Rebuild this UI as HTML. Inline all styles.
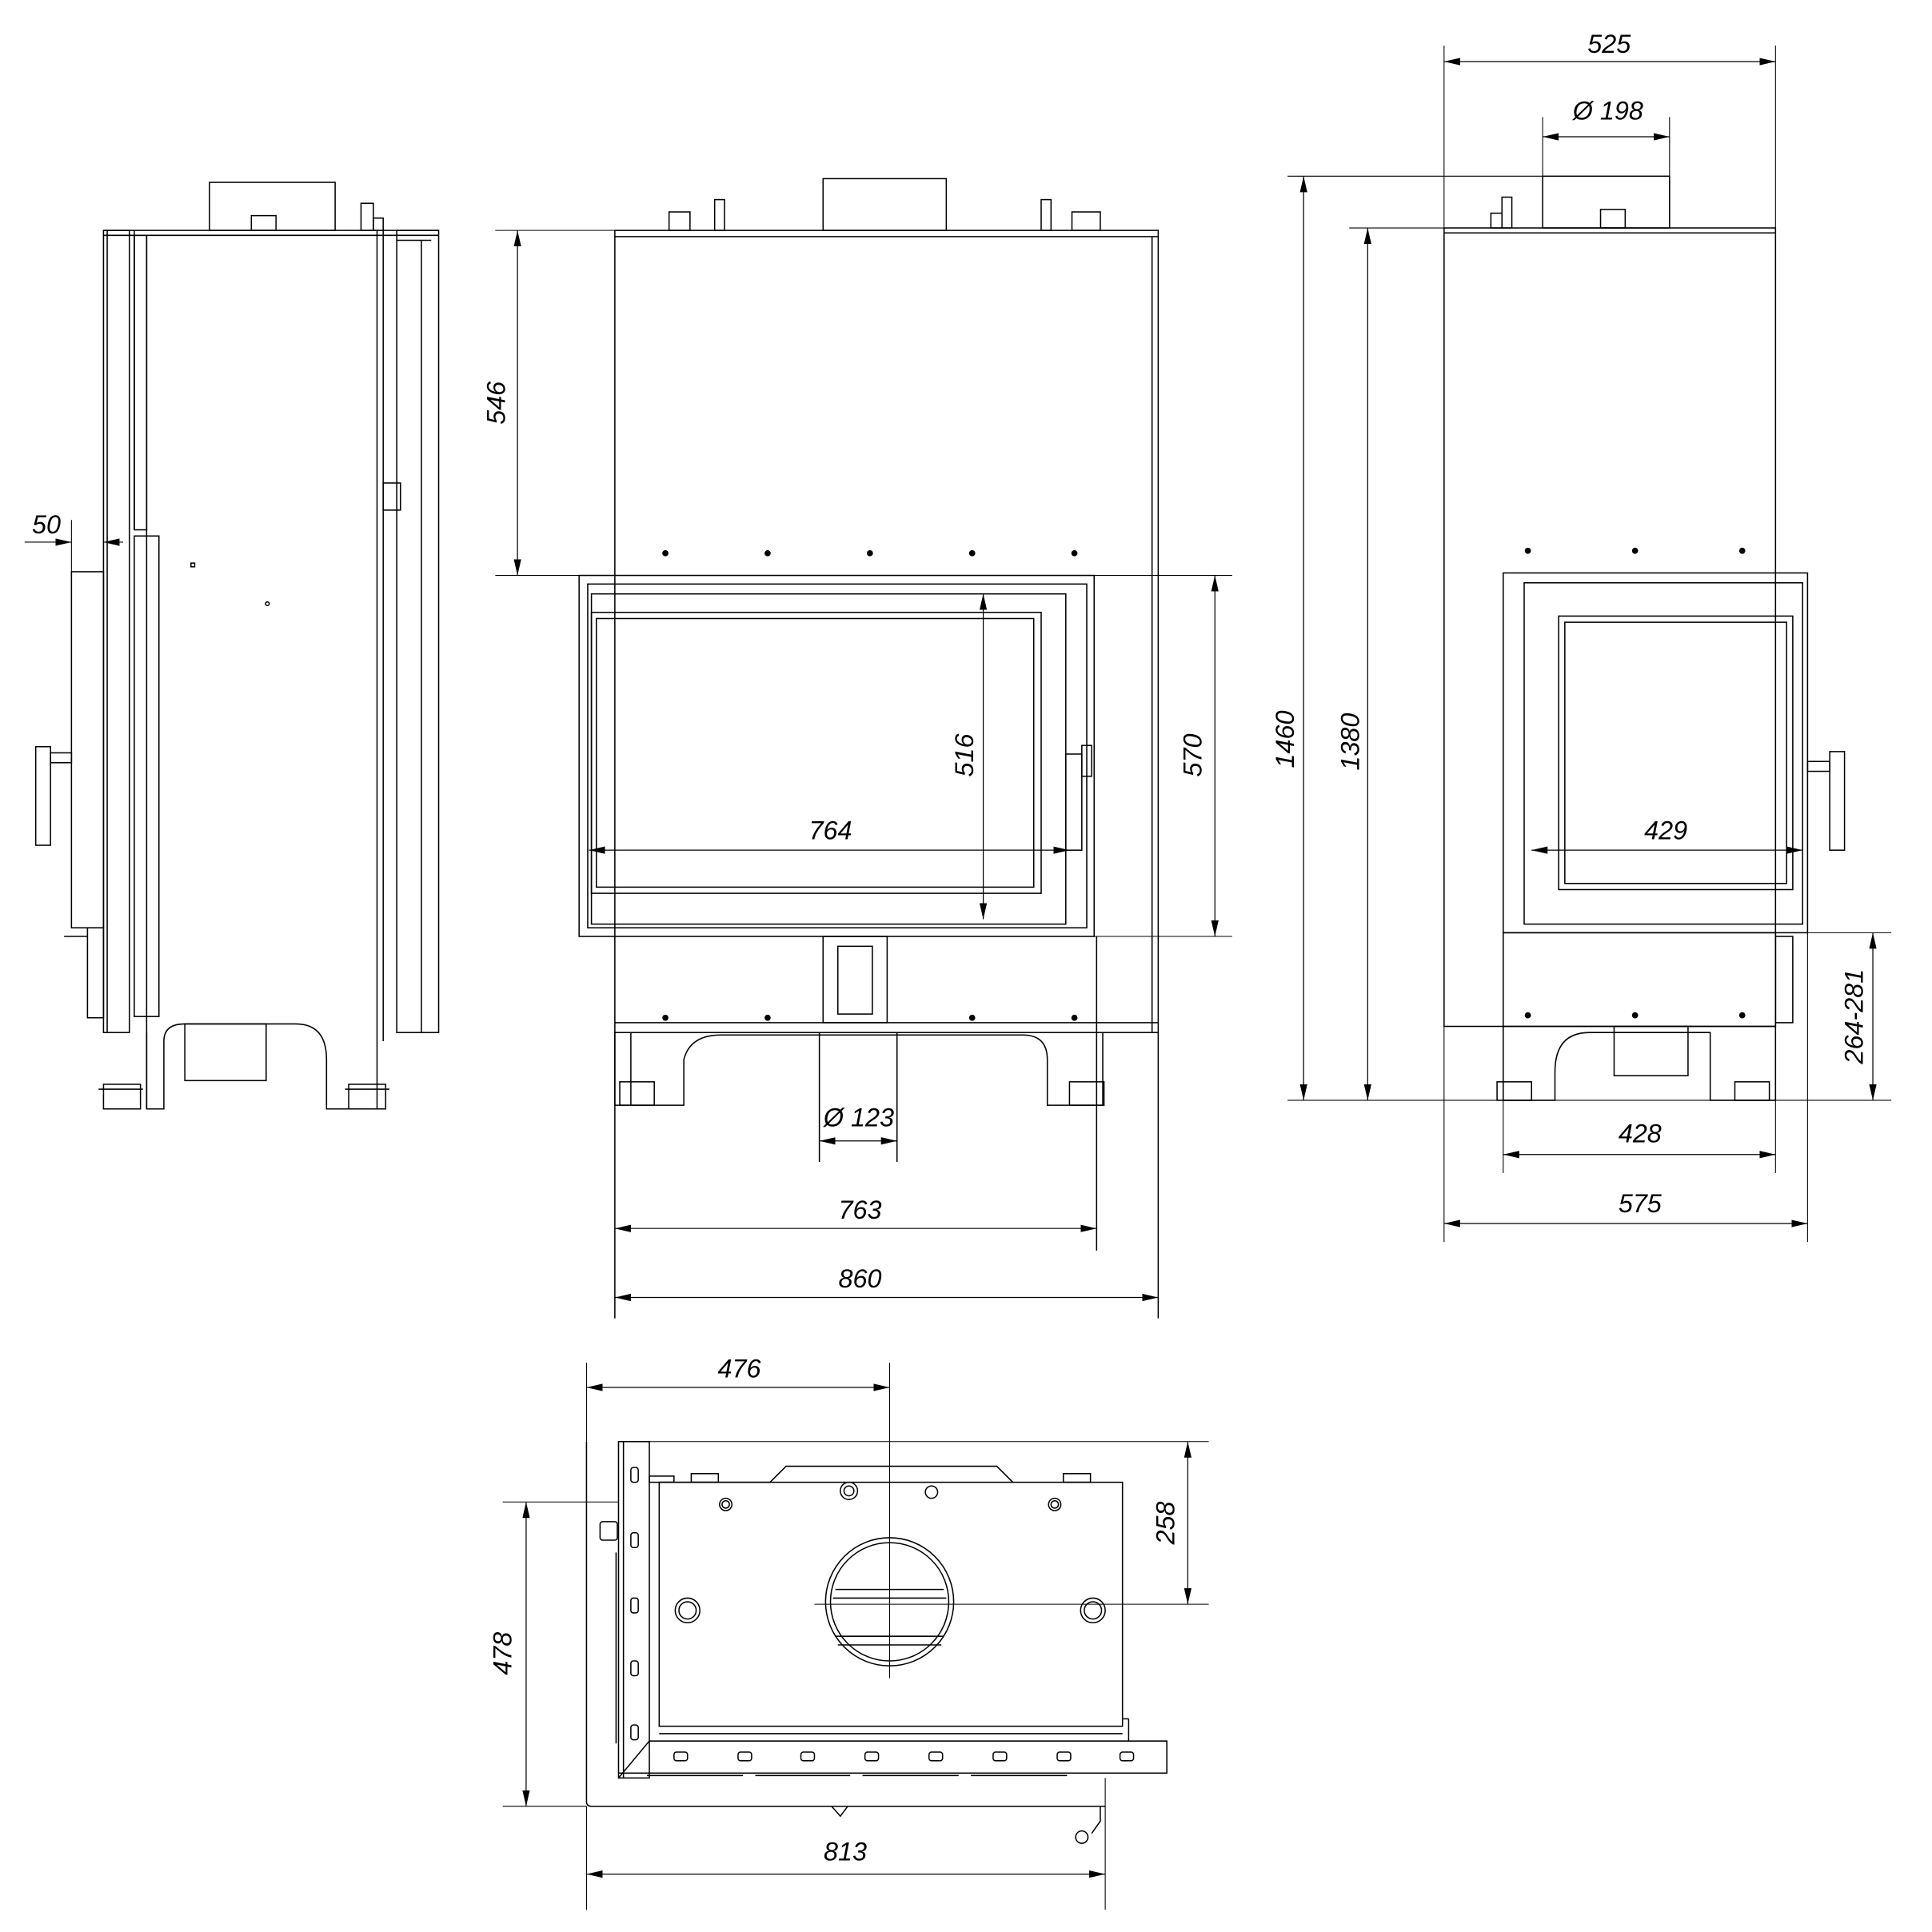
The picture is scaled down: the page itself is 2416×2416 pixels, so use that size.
<!DOCTYPE html>
<html><head><meta charset="utf-8"><style>html,body{margin:0;padding:0;background:#fff}svg{display:block}</style></head>
<body>
<svg width="2416" height="2416" viewBox="0 0 1568 1568" xmlns="http://www.w3.org/2000/svg">
<defs>
<marker id="a" markerUnits="userSpaceOnUse" markerWidth="14" markerHeight="8" refX="13" refY="4" orient="auto"><path d="M0,1 L13,4 L0,7 Z" fill="#000"/></marker>
<marker id="b" markerUnits="userSpaceOnUse" markerWidth="14" markerHeight="8" refX="1" refY="4" orient="auto"><path d="M14,1 L1,4 L14,7 Z" fill="#000"/></marker>
</defs>
<style>
.l{fill:none;stroke:#000;stroke-width:1}
.t{fill:none;stroke:#000;stroke-width:0.7}
.d{fill:none;stroke:#000;stroke-width:0.8;marker-start:url(#b);marker-end:url(#a)}
text{font-family:"Liberation Sans",sans-serif;font-style:italic;font-size:21px;fill:#000}
</style>

<!-- ===== SIDE VIEW ===== -->
<g class="l">
<rect x="170" y="148" width="102" height="39"/>
<rect x="204" y="175" width="20" height="12"/>
<rect x="293" y="165" width="10" height="22"/>
<rect x="303" y="177" width="8" height="10"/>
<line x1="84" y1="187" x2="356" y2="187"/>
<line x1="84" y1="191" x2="356" y2="191"/>
<rect x="84" y="187" width="21" height="651"/>
<line x1="87" y1="187" x2="87" y2="838"/>
<line x1="109" y1="187" x2="109" y2="430"/>
<rect x="109" y="191" width="10" height="239"/>
<rect x="109" y="435" width="20" height="390"/>
<line x1="119" y1="191" x2="119" y2="900"/>
<line x1="306" y1="187" x2="306" y2="900"/>
<line x1="311" y1="187" x2="311" y2="845"/>
<rect x="322" y="187" width="34" height="651"/>
<line x1="342" y1="195" x2="342" y2="838"/>
<line x1="322" y1="195" x2="350" y2="195"/>
<rect x="311" y="392" width="14" height="22"/>
<rect x="58" y="464" width="26" height="289"/>
<rect x="29" y="606" width="12" height="80"/>
<rect x="41" y="611" width="17" height="8"/>
<rect x="71" y="753" width="13" height="73"/>
<line x1="52" y1="760" x2="71" y2="760"/>
<path d="M119,838 V900 H133 V845 Q133,831 150,831 H240 Q265,831 265,860 V900 H306"/>
<rect x="150" y="831" width="66" height="46"/>
<rect x="84" y="880" width="30" height="20"/>
<rect x="283" y="880" width="30" height="20"/>
<line x1="80" y1="884" x2="116" y2="884"/>
<line x1="280" y1="884" x2="316" y2="884"/>
<rect x="155" y="457" width="3" height="3"/>
<circle cx="217" cy="490" r="1.5"/>
</g>
<line class="t" x1="58" y1="422" x2="58" y2="464"/>
<line class="t" x1="20" y1="440" x2="58" y2="440" marker-end="url(#a)"/>
<line class="t" x1="84" y1="440" x2="100" y2="440" marker-start="url(#b)"/>
<text x="26" y="433">50</text>

<!-- ===== FRONT VIEW ===== -->
<g class="l">
<rect x="668" y="145" width="100" height="42"/>
<rect x="543" y="172" width="17" height="15"/>
<rect x="580" y="162" width="8" height="25"/>
<rect x="845" y="162" width="8" height="25"/>
<rect x="870" y="172" width="23" height="15"/>
<rect x="499" y="187" width="441" height="651"/>
<line x1="499" y1="192" x2="940" y2="192"/>
<line x1="935" y1="192" x2="935" y2="838"/>
<rect x="470" y="467" width="418" height="293"/>
<rect x="477" y="474" width="405" height="279"/>
<rect x="480" y="482" width="385" height="268"/>
<rect x="480" y="497" width="365" height="228"/>
<rect x="484" y="502" width="355" height="218"/>
<rect x="865" y="612" width="13" height="78"/>
<rect x="878" y="605" width="8" height="25"/>
<line x1="499" y1="830" x2="940" y2="830"/>
<rect x="668" y="760" width="52" height="70"/>
<rect x="680" y="768" width="28" height="55"/>
<path d="M499,838 V897 H555 V860 Q560,840 585,840 H830 Q850,840 850,860 V897 H895 V838"/>
<line x1="512" y1="838" x2="512" y2="897"/>
<rect x="503" y="878" width="28" height="19"/>
<rect x="868" y="878" width="28" height="19"/>
<line x1="665" y1="838" x2="665" y2="943"/>
<line x1="728" y1="838" x2="728" y2="943"/>
<line x1="890" y1="760" x2="890" y2="1015"/>
<line x1="499" y1="838" x2="499" y2="1070"/>
<line x1="940" y1="838" x2="940" y2="1070"/>
</g>
<g fill="#000">
<circle cx="540" cy="449" r="2.5"/><circle cx="623" cy="449" r="2.5"/><circle cx="706" cy="449" r="2.5"/><circle cx="789" cy="449" r="2.5"/><circle cx="872" cy="449" r="2.5"/>
<circle cx="540" cy="826" r="2.5"/><circle cx="623" cy="826" r="2.5"/><circle cx="789" cy="826" r="2.5"/><circle cx="872" cy="826" r="2.5"/>
</g>
<line class="t" x1="402" y1="187" x2="499" y2="187"/>
<line class="t" x1="402" y1="467" x2="470" y2="467"/>
<line class="t" x1="888" y1="467" x2="1000" y2="467"/>
<line class="t" x1="888" y1="760" x2="1000" y2="760"/>
<line class="d" x1="420" y1="187" x2="420" y2="467"/>
<line class="d" x1="986" y1="467" x2="986" y2="760"/>
<line class="d" x1="798" y1="482" x2="798" y2="746"/>
<line class="d" x1="478" y1="690" x2="868" y2="690"/>
<line class="d" x1="499" y1="997" x2="890" y2="997"/>
<line class="d" x1="499" y1="1053" x2="940" y2="1053"/>
<line class="d" x1="665" y1="926" x2="728" y2="926"/>
<text transform="translate(410,327) rotate(-90)" text-anchor="middle">546</text>
<text transform="translate(975,613) rotate(-90)" text-anchor="middle">570</text>
<text transform="translate(790,613) rotate(-90)" text-anchor="middle">516</text>
<text x="674" y="681" text-anchor="middle">764</text>
<text x="698" y="989" text-anchor="middle">763</text>
<text x="698" y="1045" text-anchor="middle">860</text>
<text x="697" y="914" text-anchor="middle">Ø 123</text>

<!-- ===== RIGHT VIEW ===== -->
<g class="l">
<rect x="1252" y="143" width="103" height="42"/>
<rect x="1299" y="170" width="20" height="15"/>
<rect x="1210" y="173" width="9" height="12"/>
<rect x="1219" y="160" width="8" height="25"/>
<rect x="1172" y="185" width="269" height="648"/>
<line x1="1172" y1="189" x2="1441" y2="189"/>
<rect x="1220" y="465" width="247" height="292"/>
<rect x="1237" y="473" width="226" height="277"/>
<rect x="1265" y="500" width="190" height="222"/>
<rect x="1270" y="505" width="180" height="212"/>
<rect x="1485" y="610" width="12" height="80"/>
<rect x="1467" y="618" width="18" height="8"/>
<rect x="1220" y="757" width="221" height="76"/>
<rect x="1441" y="760" width="14" height="70"/>
<path d="M1220,833 V893 H1262 V870 Q1262,838 1290,838 H1388 V893 H1441 V833"/>
<rect x="1310" y="833" width="60" height="40"/>
<rect x="1215" y="878" width="28" height="15"/>
<rect x="1408" y="878" width="28" height="15"/>
</g>
<g fill="#000">
<circle cx="1240" cy="447" r="2.5"/><circle cx="1327" cy="447" r="2.5"/><circle cx="1414" cy="447" r="2.5"/>
<circle cx="1240" cy="824" r="2.5"/><circle cx="1327" cy="824" r="2.5"/><circle cx="1414" cy="824" r="2.5"/>
</g>
<line class="t" x1="1172" y1="37" x2="1172" y2="185"/>
<line class="t" x1="1441" y1="37" x2="1441" y2="185"/>
<line class="t" x1="1252" y1="95" x2="1252" y2="143"/>
<line class="t" x1="1355" y1="95" x2="1355" y2="143"/>
<line class="t" x1="1045" y1="143" x2="1252" y2="143"/>
<line class="t" x1="1095" y1="185" x2="1172" y2="185"/>
<line class="t" x1="1045" y1="893" x2="1535" y2="893"/>
<line class="t" x1="1467" y1="757" x2="1535" y2="757"/>
<line class="t" x1="1220" y1="893" x2="1220" y2="952"/>
<line class="t" x1="1441" y1="893" x2="1441" y2="952"/>
<line class="t" x1="1172" y1="833" x2="1172" y2="1008"/>
<line class="t" x1="1467" y1="757" x2="1467" y2="1008"/>
<line class="d" x1="1172" y1="50" x2="1441" y2="50"/>
<line class="d" x1="1252" y1="111" x2="1355" y2="111"/>
<line class="d" x1="1058" y1="143" x2="1058" y2="893"/>
<line class="d" x1="1110" y1="185" x2="1110" y2="893"/>
<line class="d" x1="1520" y1="757" x2="1520" y2="893"/>
<line class="d" x1="1243" y1="690" x2="1463" y2="690"/>
<line class="d" x1="1220" y1="937" x2="1441" y2="937"/>
<line class="d" x1="1172" y1="993" x2="1467" y2="993"/>
<text x="1306" y="43" text-anchor="middle">525</text>
<text x="1305" y="97" text-anchor="middle">Ø 198</text>
<text transform="translate(1050,600) rotate(-90)" text-anchor="middle">1460</text>
<text transform="translate(1103,602) rotate(-90)" text-anchor="middle">1380</text>
<text transform="translate(1512,825) rotate(-90)" text-anchor="middle">264-281</text>
<text x="1352" y="681" text-anchor="middle">429</text>
<text x="1331" y="927" text-anchor="middle">428</text>
<text x="1331" y="984" text-anchor="middle">575</text>

<!-- ===== PLAN VIEW ===== -->
<g class="l">
<path d="M476,1170 V1462 Q476,1466 480,1466 H897"/>
<rect x="502" y="1170" width="25" height="273"/>
<line x1="506" y1="1170" x2="506" y2="1443"/>
<rect x="535" y="1203" width="376" height="198"/>
<path d="M535,1203 H625 L638,1190 H809 L822,1203"/>
<rect x="561" y="1196" width="22" height="7"/>
<rect x="863" y="1196" width="22" height="7"/>
<rect x="527" y="1198" width="20" height="5"/>
<path d="M502,1443 L527,1413 H947 V1439 H502"/>
<line x1="535" y1="1407" x2="911" y2="1407"/>
<line x1="911" y1="1395" x2="916" y2="1395"/>
<line x1="916" y1="1395" x2="916" y2="1413"/>
<circle cx="722" cy="1300" r="52"/>
<circle cx="722" cy="1300" r="48"/>
<line x1="678" y1="1290" x2="766" y2="1290"/>
<line x1="676" y1="1297" x2="768" y2="1297"/>
<line x1="678" y1="1328" x2="766" y2="1328"/>
<line x1="680" y1="1335" x2="764" y2="1335"/>
<circle cx="589" cy="1221" r="5"/><circle cx="589" cy="1221" r="3"/>
<circle cx="689" cy="1210" r="7"/><circle cx="689" cy="1210" r="4"/>
<circle cx="756" cy="1211" r="5"/>
<circle cx="856" cy="1221" r="5"/><circle cx="856" cy="1221" r="3"/>
<circle cx="558" cy="1307" r="10"/><circle cx="558" cy="1307" r="7"/>
<circle cx="887" cy="1307" r="10"/><circle cx="887" cy="1307" r="7"/>
<rect x="512" y="1191" width="6" height="12" rx="2"/>
<rect x="512" y="1244" width="6" height="12" rx="2"/>
<rect x="512" y="1297" width="6" height="12" rx="2"/>
<rect x="512" y="1348" width="6" height="12" rx="2"/>
<rect x="512" y="1400" width="6" height="12" rx="2"/>
<rect x="547" y="1422" width="11" height="7" rx="2"/>
<rect x="599" y="1422" width="11" height="7" rx="2"/>
<rect x="650" y="1422" width="11" height="7" rx="2"/>
<rect x="702" y="1422" width="11" height="7" rx="2"/>
<rect x="754" y="1422" width="11" height="7" rx="2"/>
<rect x="806" y="1422" width="11" height="7" rx="2"/>
<rect x="858" y="1422" width="11" height="7" rx="2"/>
<rect x="909" y="1422" width="11" height="7" rx="2"/>
<rect x="487" y="1235" width="14" height="15" rx="2"/>
<line x1="500" y1="1260" x2="500" y2="1415"/>
<path d="M525,1441 H603 M613,1441 H690 M700,1441 H778 M788,1441 H866"/>
<path d="M675,1466 L682,1474 L688,1466"/>
<path d="M893,1466 V1478 L886,1488"/>
<circle cx="878" cy="1491" r="5"/>
</g>
<line class="t" x1="476" y1="1106" x2="476" y2="1170"/>
<line class="t" x1="476" y1="1466" x2="476" y2="1550"/>
<line class="t" x1="897" y1="1443" x2="897" y2="1550"/>
<line class="t" x1="722" y1="1106" x2="722" y2="1362"/>
<line class="t" x1="527" y1="1170" x2="981" y2="1170"/>
<line class="t" x1="661" y1="1302" x2="981" y2="1302"/>
<line class="t" x1="408" y1="1219" x2="502" y2="1219"/>
<line class="t" x1="408" y1="1466" x2="476" y2="1466"/>
<line class="d" x1="476" y1="1126" x2="722" y2="1126"/>
<line class="d" x1="964" y1="1170" x2="964" y2="1302"/>
<line class="d" x1="427" y1="1219" x2="427" y2="1466"/>
<line class="d" x1="476" y1="1521" x2="897" y2="1521"/>
<text x="600" y="1118" text-anchor="middle">476</text>
<text transform="translate(953,1236) rotate(-90)" text-anchor="middle">258</text>
<text transform="translate(415,1342) rotate(-90)" text-anchor="middle">478</text>
<text x="686" y="1510" text-anchor="middle">813</text>
</svg>
</body></html>
